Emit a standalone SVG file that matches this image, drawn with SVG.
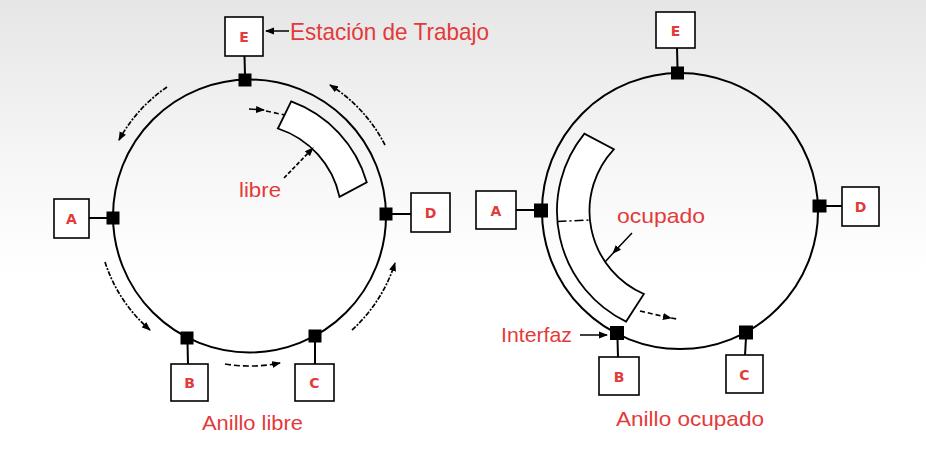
<svg xmlns="http://www.w3.org/2000/svg" width="926" height="458" viewBox="0 0 926 458">
<defs>
  <linearGradient id="bg" x1="0" y1="0" x2="0" y2="1">
    <stop offset="0" stop-color="#e6e6e6"/>
    <stop offset="0.35" stop-color="#f6f6f6"/>
    <stop offset="0.6" stop-color="#ffffff"/>
  </linearGradient>
  <marker id="ah" markerUnits="userSpaceOnUse" markerWidth="10" markerHeight="8" refX="8" refY="4" orient="auto">
    <path d="M0,0.5 L9,4 L0,7.5 z" fill="#000"/>
  </marker>
  <marker id="ahm" markerUnits="userSpaceOnUse" markerWidth="10" markerHeight="8" refX="5" refY="4" orient="auto">
    <path d="M0,0.5 L9,4 L0,7.5 z" fill="#000"/>
  </marker>
</defs>
<style>
  .ring{fill:none;stroke:#000;stroke-width:2}
  .box{fill:#fff;stroke:#000;stroke-width:1.6}
  .iface{fill:#000}
  .link{stroke:#000;stroke-width:2;fill:none}
  .flow{fill:none;stroke:#000;stroke-width:1.7;stroke-dasharray:5 1.5 2 1.5}
  .dash{fill:none;stroke:#000;stroke-width:1.6;stroke-dasharray:6 3}
  .solid{fill:none;stroke:#000;stroke-width:1.5}
  .frame{fill:#fff;stroke:#000;stroke-width:1.8}
  .lbl{font-family:"Liberation Sans",Arial,sans-serif;fill:#e33a3a;font-size:21px}
  .let{font-family:"DejaVu Sans",sans-serif;font-weight:bold;fill:#e33a3a;font-size:14px;text-anchor:middle}
</style>
<rect width="926" height="458" fill="url(#bg)"/>

<g id="connectors">
  <!-- left ring -->
  <circle class="ring" cx="249.5" cy="216" r="136.5"/>
  <path class="flow" d="M167,87 A152 152 0 0 0 119,140" marker-end="url(#ah)"/>
  <path class="flow" d="M385,145 A153 153 0 0 0 330,85" marker-end="url(#ah)"/>
  <path class="flow" d="M105,262 A151 151 0 0 0 150,330" marker-end="url(#ah)"/>
  <path class="flow" d="M352,330 A153 153 0 0 0 395,263" marker-end="url(#ah)"/>
  <path class="dash" d="M225,364 A150 150 0 0 0 280,363" marker-end="url(#ah)"/>
  <!-- right ring -->
  <circle class="ring" cx="680" cy="211" r="138"/>
</g>

<g id="frame-libre">
  <path class="frame" d="M291.2,101.4 A122 122 0 0 1 366.8,182.4 L339.5,196.9 A92 92 0 0 0 277.9,128.5 Z"/>
  <path class="solid" d="M249,109 L264,110" marker-end="url(#ah)"/>
  <path class="dash" d="M266,111 L285,115" style="stroke-dasharray:5 3"/>
  <path class="flow" d="M284,178 L313,148" style="stroke-dasharray:4 2" marker-end="url(#ah)"/>
  <text class="lbl" x="239" y="197" textLength="42" lengthAdjust="spacingAndGlyphs">libre</text>
</g>

<g id="frame-ocupado">
  <path class="frame" d="M584.4,133.6 A123 123 0 0 0 626.1,321.6 L643.9,294 A90.5 90.5 0 0 1 613.8,149.3 Z"/>
  <path class="solid" d="M557.5,221.5 L590,220" style="stroke-dasharray:9 3 2 3"/>
  <polyline class="solid" points="632,233 615,251 605,262" marker-mid="url(#ahm)"/>
  <polyline class="dash" points="640,311 668,317.5 677,319" style="stroke-dasharray:5 3" marker-mid="url(#ahm)"/>
  <text class="lbl" x="617" y="223" textLength="88" lengthAdjust="spacingAndGlyphs">ocupado</text>
</g>

<!-- left ring stations -->
<g id="L-E">
  <line class="link" x1="244.5" y1="56" x2="245" y2="75"/>
  <rect class="box" x="225" y="17" width="38" height="39"/>
  <text class="let" x="244" y="42">E</text>
  <rect class="iface" x="238.5" y="73.5" width="13" height="13"/>
</g>
<g id="L-A">
  <line class="link" x1="89" y1="218" x2="108" y2="218"/>
  <rect class="box" x="54" y="199" width="35" height="39"/>
  <text class="let" x="71.5" y="224">A</text>
  <rect class="iface" x="106.5" y="211.5" width="13" height="13"/>
</g>
<g id="L-D">
  <line class="link" x1="392" y1="214" x2="411" y2="214"/>
  <rect class="box" x="411" y="193" width="39" height="39"/>
  <text class="let" x="430.5" y="218">D</text>
  <rect class="iface" x="379.5" y="207.5" width="13" height="13"/>
</g>
<g id="L-B">
  <line class="link" x1="187.5" y1="343" x2="188" y2="364"/>
  <rect class="box" x="171" y="364" width="37" height="37"/>
  <text class="let" x="189.5" y="388">B</text>
  <rect class="iface" x="180.5" y="331.5" width="13" height="13"/>
</g>
<g id="L-C">
  <line class="link" x1="315" y1="341" x2="315" y2="364"/>
  <rect class="box" x="295" y="364" width="39" height="37"/>
  <text class="let" x="314.5" y="388">C</text>
  <rect class="iface" x="308.5" y="329.5" width="13" height="13"/>
</g>

<!-- right ring stations -->
<g id="R-E">
  <line class="link" x1="677" y1="48" x2="677.5" y2="68"/>
  <rect class="box" x="656" y="12" width="39" height="36"/>
  <text class="let" x="675.5" y="35.5">E</text>
  <rect class="iface" x="671" y="66.5" width="13" height="13"/>
</g>
<g id="R-A">
  <line class="link" x1="516" y1="210" x2="535" y2="210"/>
  <rect class="box" x="476" y="191" width="40" height="38"/>
  <text class="let" x="496" y="215.5">A</text>
  <rect class="iface" x="534" y="203.5" width="14" height="14"/>
</g>
<g id="R-D">
  <line class="link" x1="825" y1="206" x2="842" y2="206"/>
  <rect class="box" x="842" y="187" width="37" height="39"/>
  <text class="let" x="860.5" y="211.5">D</text>
  <rect class="iface" x="812.5" y="199.5" width="14" height="13"/>
</g>
<g id="R-B">
  <line class="link" x1="617.5" y1="339" x2="618" y2="357"/>
  <rect class="box" x="599" y="357" width="40" height="38"/>
  <text class="let" x="619" y="381.5">B</text>
  <rect class="iface" x="610" y="326" width="14" height="14"/>
  <line class="solid" x1="580" y1="335" x2="607" y2="335" marker-end="url(#ah)"/>
  <text class="lbl" x="501" y="342" textLength="71" lengthAdjust="spacingAndGlyphs">Interfaz</text>
</g>
<g id="R-C">
  <line class="link" x1="746" y1="338" x2="745" y2="355"/>
  <rect class="box" x="726" y="355" width="37" height="38"/>
  <text class="let" x="744.5" y="379.5">C</text>
  <rect class="iface" x="739" y="325.5" width="14" height="14"/>
</g>

<g id="labels">
  <line class="solid" x1="289" y1="31" x2="266" y2="31" marker-end="url(#ah)"/>
  <text class="lbl" x="290" y="40" style="font-size:24px" textLength="199" lengthAdjust="spacingAndGlyphs">Estación de Trabajo</text>
  <text class="lbl" x="202" y="430" textLength="101" lengthAdjust="spacingAndGlyphs">Anillo libre</text>
  <text class="lbl" x="616" y="426" textLength="148" lengthAdjust="spacingAndGlyphs">Anillo ocupado</text>
</g>
</svg>
